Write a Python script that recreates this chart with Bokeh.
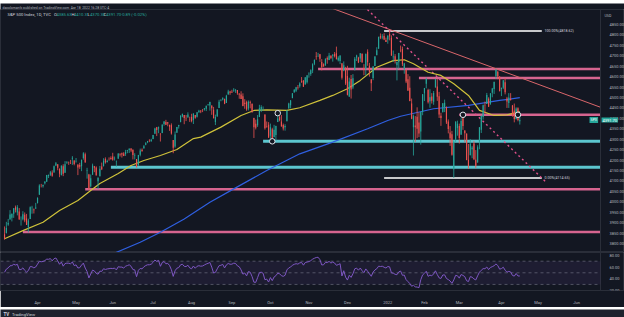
import numpy as np
import pandas as pd
from bokeh.plotting import figure
from bokeh.layouts import column
from bokeh.models import (ColumnDataSource, Range1d, FixedTicker, PrintfTickFormatter,
                          Label, BoxAnnotation)
from bokeh.embed import file_html
from bokeh.resources import INLINE

# ---------------- data ----------------
holidays = ["2021-04-02", "2021-05-31", "2021-07-05", "2021-09-06", "2021-11-25", "2021-12-24",
            "2022-01-17", "2022-02-21", "2022-04-15", "2022-05-30", "2022-06-20"]
first_day = "2021-03-08"

opens = [
    3844, 3851, 3891, 3915, 3924, 3943, 3974, 3949, 3953, 3913, 3916, 3938, 3920, 3879, 3917, 3970, 3963, 3968,
    3993, 4034, 4075, 4074, 4089, 4096, 4124, 4130, 4141, 4140, 4174, 4180, 4159, 4128, 4171, 4139, 4185, 4188, 4185, 4206, 4198,
    4191, 4179, 4177, 4170, 4210, 4228, 4150, 4131, 4075, 4130, 4170, 4165, 4099, 4122, 4169, 4170, 4205, 4191, 4201, 4210,
    4217, 4206, 4191, 4207, 4229, 4233, 4232, 4229, 4243, 4248, 4255, 4249, 4220, 4205, 4174, 4225, 4249, 4256, 4274, 4285, 4293, 4290,
    4301, 4326, 4357, 4351, 4321, 4330, 4373, 4382, 4381, 4369, 4367, 4296, 4265, 4331, 4362, 4382, 4409, 4416, 4402, 4404, 4396,
    4406, 4392, 4416, 4408, 4429, 4437, 4437, 4442, 4446, 4465, 4462, 4462, 4441, 4383, 4410, 4450, 4484, 4490, 4493, 4474, 4514, 4529,
    4528, 4534, 4532, 4536, 4518, 4514, 4506, 4475, 4479, 4447, 4477, 4470, 4402, 4374, 4367, 4406, 4438, 4442, 4419, 4362, 4370,
    4317, 4348, 4310, 4320, 4383, 4406, 4385, 4368, 4358, 4386, 4447, 4463, 4498, 4524, 4532, 4548, 4554, 4579, 4580, 4562, 4573,
    4611, 4613, 4630, 4662, 4699, 4702, 4707, 4670, 4660, 4656, 4689, 4680, 4701, 4700, 4708, 4712, 4679, 4675, 4664, 4629, 4640,
    4603, 4504, 4589, 4548, 4631, 4690, 4691, 4687, 4710, 4642, 4637, 4719, 4652, 4587, 4594, 4651, 4703, 4734, 4795, 4788, 4795, 4776,
    4778, 4804, 4787, 4693, 4698, 4655, 4669, 4728, 4733, 4637, 4632, 4588, 4547, 4471, 4357, 4366, 4408, 4380, 4337, 4431,
    4520, 4566, 4536, 4482, 4505, 4480, 4548, 4553, 4506, 4412, 4429, 4455, 4456, 4385, 4332, 4324, 4156, 4299, 4354,
    4364, 4322, 4401, 4342, 4327, 4202, 4223, 4252, 4280, 4202, 4188, 4288, 4345, 4407, 4462, 4469, 4494, 4470, 4523, 4541, 4603, 4624, 4600,
    4541, 4547, 4573, 4495, 4474, 4494, 4462, 4437, 4397, 4449, 4385.63,
]
highs = [
    3882, 3904, 3918, 3960, 3944, 3970, 3982, 3984, 3970, 3930, 3955, 3949, 3942, 3919, 3978, 3981, 3968, 3995,
    4021, 4084, 4086, 4083, 4098, 4129, 4131, 4148, 4151, 4174, 4191, 4180, 4160, 4175, 4180, 4195, 4195, 4193, 4201, 4219, 4199,
    4210, 4179, 4187, 4202, 4238, 4236, 4163, 4134, 4131, 4183, 4172, 4170, 4117, 4172, 4188, 4209, 4213, 4202, 4213, 4218,
    4235, 4217, 4198, 4234, 4233, 4236, 4238, 4249, 4249, 4255, 4257, 4251, 4233, 4205, 4225, 4255, 4256, 4272, 4286, 4292, 4300, 4302,
    4321, 4355, 4359, 4361, 4330, 4372, 4387, 4393, 4383, 4369, 4376, 4296, 4337, 4359, 4369, 4415, 4422, 4416, 4416, 4429, 4408,
    4422, 4424, 4416, 4430, 4441, 4440, 4445, 4449, 4461, 4468, 4480, 4462, 4455, 4418, 4444, 4489, 4492, 4501, 4495, 4513, 4537, 4532,
    4537, 4545, 4541, 4536, 4521, 4530, 4520, 4492, 4485, 4486, 4485, 4471, 4403, 4394, 4416, 4465, 4463, 4457, 4419, 4385, 4382,
    4375, 4355, 4369, 4365, 4418, 4412, 4416, 4375, 4372, 4440, 4475, 4488, 4521, 4540, 4551, 4560, 4573, 4598, 4584, 4597, 4608,
    4621, 4635, 4664, 4683, 4718, 4714, 4709, 4684, 4664, 4688, 4697, 4714, 4701, 4708, 4718, 4744, 4698, 4702, 4664, 4673, 4647,
    4652, 4595, 4608, 4612, 4694, 4705, 4695, 4713, 4711, 4660, 4710, 4731, 4666, 4587, 4651, 4698, 4741, 4791, 4807, 4804, 4808, 4787,
    4797, 4818.62, 4798, 4725, 4708, 4673, 4714, 4749, 4744, 4666, 4632, 4612, 4602, 4495, 4418, 4411, 4453, 4429, 4432, 4516,
    4546, 4595, 4542, 4540, 4521, 4531, 4590, 4588, 4527, 4427, 4473, 4490, 4456, 4395, 4363, 4340, 4295, 4385, 4389,
    4375, 4401, 4417, 4343, 4327, 4277, 4300, 4268, 4292, 4248, 4271, 4358, 4412, 4466, 4481, 4522, 4501, 4520, 4546, 4575, 4637, 4627, 4603,
    4548, 4583, 4594, 4503, 4521, 4521, 4464, 4471, 4453, 4453, 4410.31,
]
lows = [
    3819, 3848, 3885, 3915, 3906, 3923, 3949, 3935, 3914, 3886, 3911, 3902, 3889, 3853, 3917, 3943, 3944, 3966,
    3993, 4034, 4069, 4068, 4083, 4096, 4114, 4124, 4120, 4140, 4171, 4151, 4118, 4126, 4123, 4139, 4183, 4177, 4182, 4177, 4175,
    4188, 4128, 4158, 4147, 4202, 4188, 4111, 4056, 4069, 4130, 4142, 4125, 4061, 4122, 4152, 4170, 4183, 4188, 4197, 4203,
    4197, 4198, 4168, 4207, 4217, 4212, 4219, 4220, 4233, 4234, 4238, 4203, 4203, 4165, 4174, 4218, 4241, 4256, 4271, 4281, 4286, 4288,
    4300, 4326, 4315, 4329, 4289, 4329, 4365, 4368, 4362, 4340, 4322, 4233, 4259, 4331, 4351, 4381, 4405, 4372, 4387, 4404, 4383,
    4381, 4373, 4398, 4404, 4427, 4425, 4430, 4437, 4435, 4461, 4437, 4417, 4400, 4368, 4407, 4450, 4482, 4486, 4468, 4474, 4514, 4513,
    4522, 4527, 4522, 4513, 4494, 4493, 4458, 4446, 4436, 4438, 4448, 4427, 4306, 4347, 4359, 4406, 4430, 4436, 4346, 4355, 4306,
    4289, 4279, 4310, 4293, 4382, 4386, 4361, 4342, 4341, 4386, 4447, 4448, 4496, 4524, 4526, 4538, 4547, 4570, 4551, 4562, 4567,
    4595, 4604, 4617, 4655, 4681, 4694, 4671, 4630, 4648, 4651, 4662, 4679, 4684, 4672, 4692, 4683, 4673, 4660, 4586, 4626, 4560,
    4510, 4504, 4495, 4540, 4631, 4675, 4665, 4670, 4666, 4607, 4606, 4652, 4600, 4531, 4583, 4651, 4703, 4734, 4780, 4779, 4775, 4766,
    4758, 4774, 4700, 4671, 4663, 4582, 4638, 4717, 4651, 4614, 4569, 4533, 4482, 4396, 4222, 4287, 4305, 4310, 4274, 4415,
    4483, 4544, 4471, 4451, 4471, 4465, 4548, 4484, 4402, 4364, 4429, 4430, 4373, 4328, 4268, 4221, 4114.65, 4287, 4317,
    4279, 4322, 4345, 4285, 4199, 4157, 4223, 4209, 4200, 4161, 4188, 4252, 4330, 4394, 4425, 4469, 4455, 4465, 4501, 4517, 4589, 4588, 4530,
    4507, 4540, 4515, 4450, 4450, 4485, 4408, 4381, 4394, 4386, 4370.30,
]
closes = [
    3821, 3875, 3898, 3939, 3943, 3969, 3962, 3974, 3915, 3913, 3940, 3911, 3889, 3910, 3974, 3971, 3959, 3973,
    4020, 4078, 4074, 4080, 4097, 4129, 4128, 4142, 4125, 4171, 4185, 4163, 4135, 4173, 4135, 4180, 4188, 4187, 4183, 4211, 4181,
    4192, 4165, 4168, 4202, 4233, 4189, 4152, 4063, 4113, 4174, 4163, 4127, 4115, 4159, 4156, 4197, 4188, 4196, 4200, 4204,
    4202, 4208, 4192, 4230, 4227, 4227, 4220, 4239, 4247, 4255, 4246, 4224, 4222, 4166, 4224, 4246, 4242, 4266, 4281, 4291, 4291, 4298,
    4320, 4352, 4344, 4358, 4320, 4370, 4385, 4369, 4375, 4360, 4327, 4259, 4323, 4359, 4368, 4412, 4422, 4402, 4400, 4419, 4395,
    4387, 4423, 4403, 4429, 4437, 4433, 4436, 4448, 4460, 4468, 4479, 4449, 4400, 4406, 4442, 4480, 4486, 4497, 4470, 4509, 4529, 4523,
    4524, 4537, 4535, 4520, 4514, 4493, 4459, 4469, 4443, 4480, 4474, 4433, 4358, 4355, 4396, 4449, 4455, 4443, 4353, 4360, 4308,
    4357, 4300, 4346, 4364, 4399, 4391, 4361, 4351, 4364, 4438, 4471, 4486, 4520, 4537, 4549, 4545, 4567, 4575, 4551, 4597, 4605,
    4614, 4631, 4660, 4680, 4697, 4702, 4686, 4646, 4649, 4683, 4682, 4701, 4689, 4705, 4698, 4683, 4691, 4701, 4595, 4655, 4567,
    4513, 4577, 4538, 4592, 4686, 4701, 4668, 4712, 4669, 4635, 4710, 4669, 4621, 4568, 4649, 4697, 4726, 4791, 4786, 4793, 4778, 4766,
    4797, 4793, 4701, 4696, 4677, 4670, 4713, 4726, 4660, 4663, 4577, 4533, 4483, 4398, 4410, 4357, 4350, 4327, 4432, 4516,
    4546, 4589, 4477, 4501, 4484, 4522, 4587, 4504, 4419, 4402, 4472, 4475, 4380, 4349, 4305, 4226, 4288, 4385, 4374,
    4306, 4387, 4363, 4329, 4201, 4171, 4278, 4260, 4204, 4173, 4262, 4357, 4412, 4463, 4461, 4512, 4456, 4520, 4543, 4575, 4632, 4602, 4530,
    4546, 4583, 4525, 4481, 4500, 4488, 4413, 4397, 4447, 4392.59, 4391.70,
]
# closes before the first visible bar (Feb 1 - Mar 5, 2021), used only to warm up the RSI
warmup_closes = [3774, 3826, 3830, 3872, 3887, 3916, 3911, 3910, 3916, 3934, 3932, 3931, 3913, 3907,
                 3877, 3881, 3925, 3829, 3811, 3901, 3870, 3820, 3768, 3842]

# moving averages
ma50_dates = ["2021-03-08", "2021-03-22", "2021-04-07", "2021-04-20", "2021-05-04", "2021-05-13", "2021-05-20",
              "2021-06-04", "2021-06-15", "2021-06-24", "2021-07-08", "2021-07-21", "2021-08-03", "2021-08-09",
              "2021-08-24", "2021-09-09", "2021-09-20", "2021-09-29", "2021-10-14", "2021-10-25", "2021-11-09",
              "2021-11-18", "2021-12-01", "2021-12-10", "2021-12-23", "2022-01-06", "2022-01-14", "2022-01-24",
              "2022-02-03", "2022-02-14", "2022-02-24", "2022-03-08", "2022-03-16", "2022-03-28", "2022-04-06",
              "2022-04-14", "2022-04-18"]
ma50_vals = [3823, 3862, 3902, 3958, 4006, 4054, 4088, 4136, 4174, 4198, 4222, 4251, 4303, 4310, 4358, 4414,
             4438, 4441, 4438, 4451, 4486, 4510, 4542, 4582, 4645, 4677, 4681, 4662, 4621, 4606, 4566, 4510,
             4438, 4414, 4417, 4430, 4432]
ma200_dates = ["2021-05-20", "2021-06-02", "2021-06-22", "2021-07-08", "2021-07-27", "2021-08-16", "2021-09-02",
               "2021-09-29", "2021-10-25", "2021-11-18", "2021-12-16", "2022-01-03", "2022-01-12", "2022-02-08",
               "2022-03-08", "2022-03-31", "2022-04-18"]
ma200_vals = [3722, 3754, 3806, 3854, 3918, 3998, 4062, 4150, 4230, 4286, 4350, 4390, 4410, 4446, 4462, 4486, 4499]

# drawings
pink_levels = [4637, 4594, 4417, 4060, 3855]
pink_starts = ["2021-11-08", "2022-01-27", "2022-03-01", "2021-05-10", "2021-03-22"]
cyan_levels = [4290, 4166]
cyan_starts = ["2021-09-27", "2021-05-28"]
fib_span = ["2021-12-30", "2022-05-04"]
trend_dates = ["2022-01-04", "2022-03-29"]
trend_prices = [4826, 4638]
dash_dates = ["2021-12-10", "2022-05-06"]
dash_prices = [4955, 4097]
circle_dates = ["2021-10-07", "2021-10-04", "2022-03-03", "2022-04-14"]
circle_prices = [4425, 4290, 4417, 4417]

price_ticks = list(range(3800, 4851, 50))
rsi_ticks = [20, 40, 60, 80]
rsi_bands = [70, 50, 30]
month_dates = ["2021-04-01", "2021-05-03", "2021-06-01", "2021-07-01", "2021-08-02", "2021-09-01", "2021-10-01",
               "2021-11-01", "2021-12-01", "2022-01-03", "2022-02-01", "2022-03-01", "2022-04-01", "2022-05-02",
               "2022-06-01"]
month_labels = ["Apr", "May", "Jun", "Jul", "Aug", "Sep", "Oct", "Nov", "Dec", "2022", "Feb", "Mar", "Apr", "May", "Jun"]

# ---------------- helpers ----------------
cal = pd.bdate_range(first_day, "2022-06-30", freq="C", holidays=holidays)
day_index = {d.strftime("%Y-%m-%d"): i for i, d in enumerate(cal)}


def xi(d):
    return day_index[d]


n = len(closes)
assert len(opens) == n and len(highs) == n and len(lows) == n, (len(opens), len(highs), len(lows), n)

BG = "#131722"
PANEL = "#1e222d"
SEP = "#2a2e39"
TXT = "#b2b5be"
UP = "#26a69a"
DOWN = "#ef5350"
PINK = "#d6648f"
CYAN = "#5cc6cf"
FONT = "Roboto"

o = np.array(opens, float)
h = np.array(highs, float)
lo = np.array(lows, float)
c = np.array(closes, float)
xs = np.arange(n)
col = np.where(c >= o, UP, DOWN)
src = ColumnDataSource(dict(x=xs, h=h, l=lo, top=np.maximum(o, c), bot=np.minimum(o, c), col=col))

# x view: 624 px wide frame; the price scale sits inside it, from AXIS_X to the right edge
xr = Range1d(-2.2, 338.1)
AXIS_X = 325.0


def style_axis(ax):
    ax.major_label_text_font = FONT
    ax.major_label_text_font_size = "4px"
    ax.major_label_text_color = TXT
    ax.major_tick_line_color = None
    ax.minor_tick_line_color = None
    ax.axis_line_color = SEP
    ax.major_label_standoff = 3


# ---------------- header ----------------
hd = figure(width=624, height=9, x_range=Range1d(0, 624), y_range=Range1d(0, 9), toolbar_location=None,
            output_backend="svg", min_border=0, x_axis_location=None, y_axis_location=None,
            background_fill_color=BG, border_fill_color=BG)
hd.outline_line_color = None
hd.grid.visible = False
hd.add_layout(Label(x=2, y=4.5, text="dacolomanfx published on TradingView.com, Apr 18, 2022 16:28 UTC-4",
                    text_font=FONT, text_font_size="3.4px", text_color=TXT, text_baseline="middle"))

# ---------------- main price panel ----------------
p = figure(width=624, height=243, x_range=xr, y_range=Range1d(3757, 4921.9), y_axis_location="right",
           x_axis_location=None, toolbar_location=None, output_backend="svg", min_border=0,
           background_fill_color=BG, border_fill_color=BG)
p.outline_line_color = SEP
p.grid.grid_line_color = None
ya = p.yaxis[0]
ya.fixed_location = AXIS_X
ya.ticker = FixedTicker(ticks=price_ticks)
ya.formatter = PrintfTickFormatter(format="%.2f")
style_axis(ya)

# horizontal levels (rays to the price scale)
p.segment(x0=[xi(d) for d in cyan_starts], y0=cyan_levels, x1=[AXIS_X] * len(cyan_levels), y1=cyan_levels,
          line_color=CYAN, line_width=3)
p.segment(x0=[xi(d) for d in pink_starts], y0=pink_levels, x1=[AXIS_X] * len(pink_levels), y1=pink_levels,
          line_color=PINK, line_width=2.5)

# fib retracement 0 / 100
fx0, fx1 = xi(fib_span[0]), xi(fib_span[1])
fib_high = max(highs[fx0:])
fib_low = min(lows[fx0:])
p.segment(x0=[fx0, fx0], y0=[fib_high, fib_low], x1=[fx1, fx1], y1=[fib_high, fib_low],
          line_color="#c8c9cc", line_width=2)
p.add_layout(Label(x=fx1 + 1.5, y=fib_high, text=f"100.00%({fib_high:.2f})", text_font=FONT,
                   text_font_size="3.6px", text_color="#d1d4dc", text_baseline="middle"))
p.add_layout(Label(x=fx1 + 1.5, y=fib_low, text=f"0.00%({fib_low:.2f})", text_font=FONT,
                   text_font_size="3.6px", text_color="#d1d4dc", text_baseline="middle"))

# trend lines
tx = [xi(d) for d in trend_dates]
slope = (trend_prices[1] - trend_prices[0]) / (tx[1] - tx[0])
tline_x = [170, AXIS_X]
tline_y = [trend_prices[0] + slope * (xx - tx[0]) for xx in tline_x]
p.line(tline_x, tline_y, line_color="#d9666b", line_width=1)
p.line([xi(d) for d in dash_dates], dash_prices, line_color="#e0508a", line_width=1.4, line_dash="2 3")

# moving averages
p.line([xi(d) for d in ma200_dates], ma200_vals, line_color="#2f5fe0", line_width=1.2)
p.line([xi(d) for d in ma50_dates], ma50_vals, line_color="#cfc23a", line_width=1.2)

# candles
p.segment(x0="x", y0="l", x1="x", y1="h", line_color="col", line_width=0.8, source=src)
p.vbar(x="x", width=0.62, top="top", bottom="bot", fill_color="col", line_color=None, source=src)

# circles
p.scatter([xi(d) for d in circle_dates], circle_prices, size=5.5, marker="circle",
          line_color="#e0e3eb", fill_color=BG, line_width=1)

# legend line at top-left
chg = closes[-1] - closes[-2]
parts = [("S&P 500 Index, 1D, TVC", 7, "#d1d4dc"),
         ("O", 53.5, "#d1d4dc"), (f"{opens[-1]:.2f}", 56, UP),
         ("H", 71, "#d1d4dc"), (f"{highs[-1]:.2f}", 73.5, UP),
         ("L", 87, "#d1d4dc"), (f"{lows[-1]:.2f}", 89.5, UP),
         ("C", 103, "#d1d4dc"), (f"{closes[-1]:.2f}", 105.5, UP),
         (f"{chg:.2f} ({chg / closes[-2] * 100:.2f}%)", 120.5, UP)]
for txt, px, colr in parts:
    p.add_layout(Label(x=px, y=238, x_units="screen", y_units="screen", text=txt, text_font=FONT,
                       text_font_size="4.2px", text_color=colr, text_baseline="middle"))

# last price tags
p.add_layout(Label(x=589, y=closes[-1], x_units="screen", text="SPX", text_font=FONT, text_font_size="3.6px",
                   text_color="white", text_baseline="middle", background_fill_color=UP, padding=1))
p.add_layout(Label(x=601, y=closes[-1], x_units="screen", text=f"{closes[-1]:.2f}", text_font=FONT,
                   text_font_size="4px", text_color="white", text_baseline="middle",
                   background_fill_color=UP, padding=1))
p.add_layout(Label(x=604, y=237, x_units="screen", y_units="screen", text="USD", text_font=FONT,
                   text_font_size="3.6px", text_color=TXT, text_baseline="middle"))

# ---------------- RSI panel ----------------
allc = np.array(warmup_closes + closes, float)
d = np.diff(allc)
g = np.clip(d, 0, None)
ls = np.clip(-d, 0, None)
N = 14
ag = np.full(len(d), np.nan)
al = np.full(len(d), np.nan)
ag[N - 1] = g[:N].mean()
al[N - 1] = ls[:N].mean()
for i in range(N, len(d)):
    ag[i] = (ag[i - 1] * (N - 1) + g[i]) / N
    al[i] = (al[i - 1] * (N - 1) + ls[i]) / N
rsi_full = 100 - 100 / (1 + ag / al)
rsi = rsi_full[len(warmup_closes) - 1: len(warmup_closes) - 1 + n]

r = figure(width=624, height=55, x_range=xr, y_range=Range1d(19.5, 85), y_axis_location="right",
           toolbar_location=None, output_backend="svg", min_border=0, min_border_bottom=12,
           background_fill_color=BG, border_fill_color=BG)
r.outline_line_color = SEP
r.grid.grid_line_color = None
r.add_layout(BoxAnnotation(left=xr.start, right=AXIS_X, bottom=rsi_bands[2], top=rsi_bands[0],
                           fill_color="#7e57c2", fill_alpha=0.1, line_color=None))
r.segment(x0=[xr.start] * 3, y0=rsi_bands, x1=[AXIS_X] * 3, y1=rsi_bands,
          line_color="#787b86", line_alpha=0.6, line_dash="3 3", line_width=1)
r.line(xs, rsi, line_color="#7e57c2", line_width=1)

ra = r.yaxis[0]
ra.fixed_location = AXIS_X
ra.ticker = FixedTicker(ticks=rsi_ticks)
ra.formatter = PrintfTickFormatter(format="%.2f")
xa = r.xaxis[0]
xa.ticker = FixedTicker(ticks=[xi(dd) for dd in month_dates])
xa.major_label_overrides = {xi(dd): lab for dd, lab in zip(month_dates, month_labels)}
style_axis(ra)
style_axis(xa)

# ---------------- footer ----------------
ft = figure(width=624, height=10, x_range=Range1d(0, 624), y_range=Range1d(0, 10), toolbar_location=None,
            output_backend="svg", min_border=0, x_axis_location=None, y_axis_location=None,
            background_fill_color=PANEL, border_fill_color=PANEL)
ft.outline_line_color = None
ft.grid.visible = False
ft.add_layout(Label(x=3, y=5, text="TV", text_font=FONT, text_font_size="4.5px", text_font_style="bold",
                    text_color="#d1d4dc", text_baseline="middle"))
ft.add_layout(Label(x=11.5, y=5, text="TradingView", text_font=FONT, text_font_size="4.2px",
                    text_color="#d1d4dc", text_baseline="middle"))

layout = column(hd, p, r, ft, spacing=0)
open("out.html", "w").write(file_html(layout, INLINE))
